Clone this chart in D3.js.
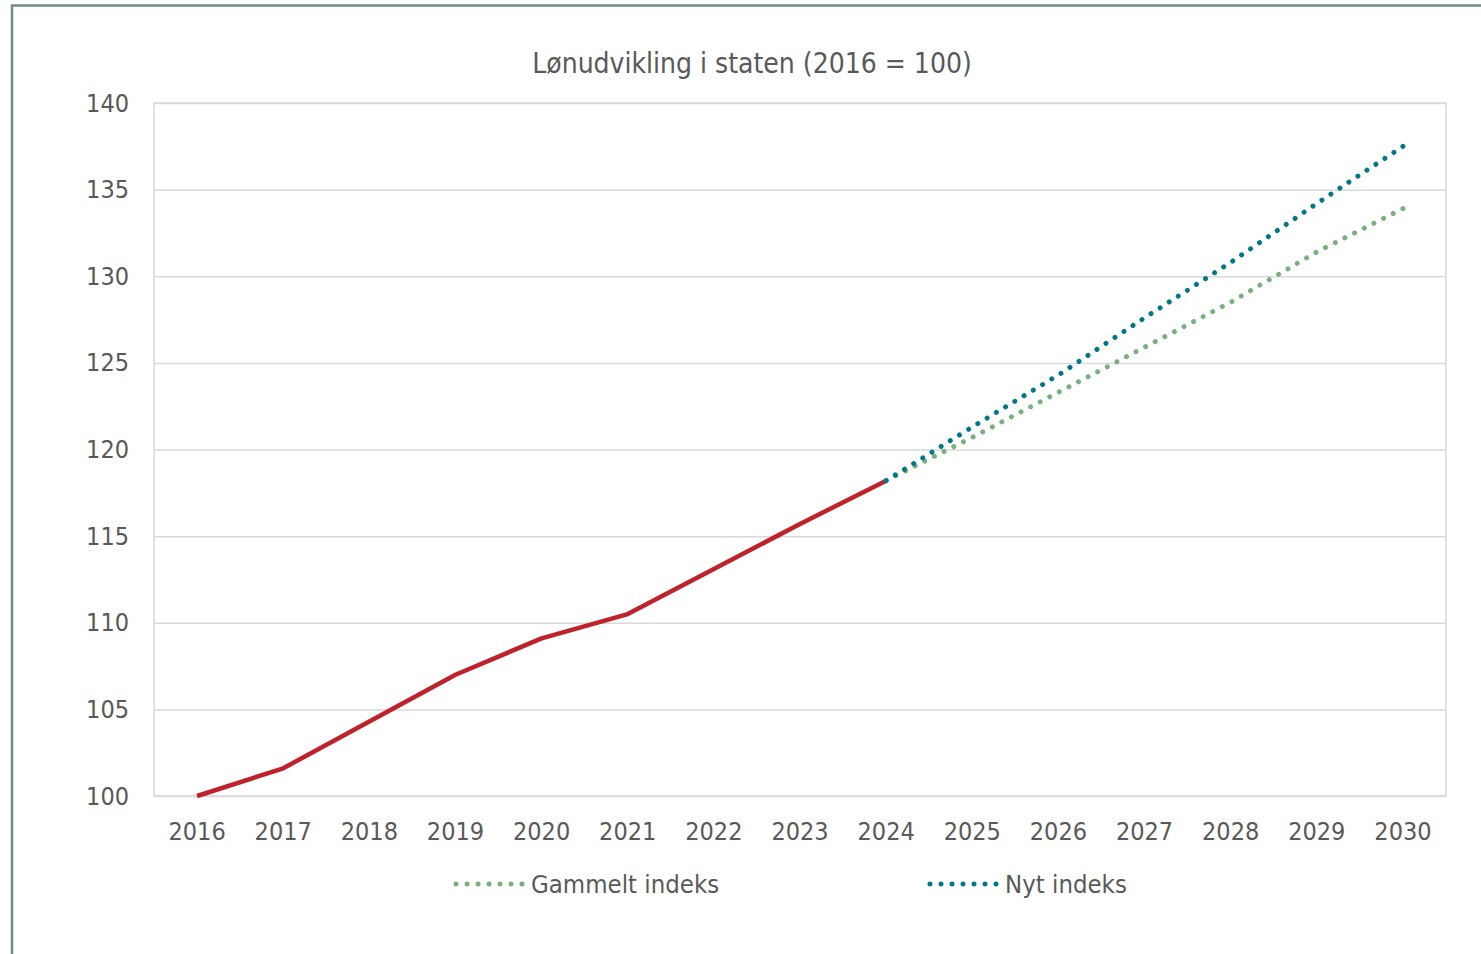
<!DOCTYPE html>
<html>
<head>
<meta charset="utf-8">
<script src="https://cdn.jsdelivr.net/npm/d3@7"></script>
<style>
  html, body { margin: 0; padding: 0; background: #fff; }
  svg { display: block; }
  text { font-family: "DejaVu Sans Condensed", "DejaVu Sans", sans-serif; fill: #595959; }
</style>
</head>
<body>
<svg id="chart" width="1481" height="954"></svg>
<script>
// ---- data ----
const title = "Lønudvikling i staten (2016 = 100)";
const years = ["2016","2017","2018","2019","2020","2021","2022","2023","2024","2025","2026","2027","2028","2029","2030"];
const actualYears = ["2016","2017","2018","2019","2020","2021","2022","2023","2024"];
const actualValues = [100, 101.6, 104.3, 107.0, 109.1, 110.5, 113.1, 115.7, 118.2];
const forecastYears = ["2024","2025","2026","2027","2028","2029","2030"];
const oldIndex = [118.2, 120.7, 123.3, 125.9, 128.5, 131.4, 133.9];
const newIndex = [118.2, 121.3, 124.3, 127.6, 130.8, 134.2, 137.5];
const yTicks = [100, 105, 110, 115, 120, 125, 130, 135, 140];
const seriesNames = ["Gammelt indeks", "Nyt indeks"];

// ---- layout ----
const svg = d3.select("#chart");
const plot = { left: 154, right: 1446, top: 103, bottom: 796 };
const colors = { actual: "#C0222C", old: "#7BAF7D", nyt: "#00788A", grid: "#D9D9D9", frame: "#6F8B89" };
const fontFam = "'DejaVu Sans Condensed', 'DejaVu Sans', sans-serif";

// outer frame (continues beyond the viewport on right/bottom)
svg.append("rect")
  .attr("x", 12).attr("y", 5.5).attr("width", 1600).attr("height", 1100)
  .attr("fill", "none").attr("stroke", colors.frame).attr("stroke-width", 2.5);

const x = d3.scaleBand().domain(years).range([plot.left, plot.right]).padding(0);
const xc = d => x(d) + x.bandwidth() / 2;
const y = d3.scaleLinear().domain([100, 140]).range([plot.bottom, plot.top]);

// gridlines
const grid = svg.append("g").attr("transform", `translate(${plot.left},0)`)
  .call(d3.axisLeft(y).tickValues(yTicks).tickSize(-(plot.right - plot.left)).tickFormat(""));
grid.select(".domain").remove();
grid.selectAll("line").attr("stroke", colors.grid).attr("stroke-width", 1.5);

// plot border
svg.append("rect")
  .attr("x", plot.left).attr("y", plot.top)
  .attr("width", plot.right - plot.left).attr("height", plot.bottom - plot.top)
  .attr("fill", "none").attr("stroke", colors.grid).attr("stroke-width", 1.5);

// y axis labels
const yAxis = svg.append("g").attr("transform", `translate(${plot.left},0)`)
  .call(d3.axisLeft(y).tickValues(yTicks).tickSize(0).tickPadding(25));
yAxis.select(".domain").remove();
yAxis.selectAll("text").style("font-size", "25px").style("fill", "#595959").style("font-family", fontFam);

// x axis labels
const xAxis = svg.append("g").attr("transform", `translate(0,${plot.bottom})`)
  .call(d3.axisBottom(x).tickSize(0).tickPadding(26));
xAxis.select(".domain").remove();
xAxis.selectAll("text").style("font-size", "25px").style("fill", "#595959").style("font-family", fontFam);

// lines
const line = d3.line().x(d => xc(d[0])).y(d => y(d[1]));
svg.append("path")
  .datum(d3.zip(actualYears, actualValues))
  .attr("d", line).attr("fill", "none")
  .attr("stroke", colors.actual).attr("stroke-width", 4.5).attr("stroke-linejoin", "round");

const dotted = (vals, color) => {
  const p = svg.append("path")
    .datum(d3.zip(forecastYears, vals))
    .attr("d", line).attr("fill", "none")
    .attr("stroke", color).attr("stroke-width", 5)
    .attr("stroke-linecap", "round");
  const len = p.node().getTotalLength() - 0.05;
  const n = Math.round(len / 10.8);
  p.attr("stroke-dasharray", `0.01 ${(len / n - 0.01).toFixed(5)}`);
};
dotted(oldIndex, colors.old);
dotted(newIndex, colors.nyt);

// title
svg.append("text").attr("x", 752).attr("y", 73).attr("text-anchor", "middle")
  .style("font-size", "28px").text(title);

// legend
const legend = [
  { name: seriesNames[0], color: colors.old, x: 456 },
  { name: seriesNames[1], color: colors.nyt, x: 930 }
];
const lg = svg.append("g").selectAll("g").data(legend).join("g")
  .attr("transform", d => `translate(${d.x},884)`);
lg.append("line").attr("x1", 0).attr("x2", 66.05).attr("y1", 0).attr("y2", 0)
  .attr("stroke", d => d.color).attr("stroke-width", 5)
  .attr("stroke-linecap", "round").attr("stroke-dasharray", "0.01 10.99");
lg.append("text").attr("x", 75).attr("y", 9).style("font-size", "25.5px").text(d => d.name);
</script>
</body>
</html>
